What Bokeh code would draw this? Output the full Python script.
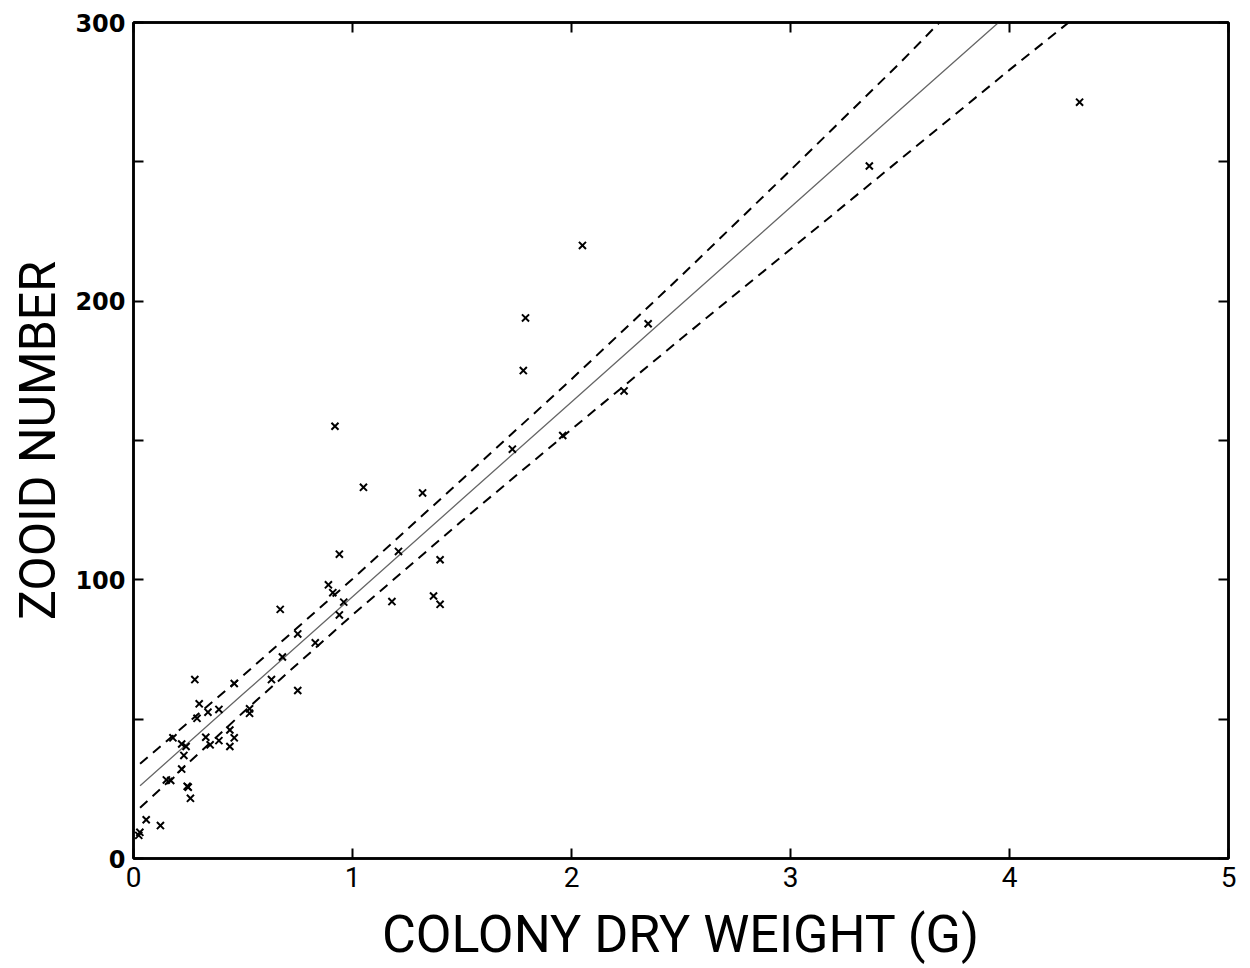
from bokeh.plotting import figure
from bokeh.models import LinearAxis, FixedTicker, Range1d
from bokeh.embed import file_html
from bokeh.resources import INLINE

# Data
weight_g = [0.024, 0.029, 0.058, 0.123, 0.15, 0.17, 0.18, 0.22, 0.22, 0.23, 0.24,
            0.245, 0.25, 0.26, 0.28, 0.29, 0.30, 0.33, 0.34, 0.35, 0.39, 0.39,
            0.44, 0.44, 0.46, 0.46, 0.53, 0.53, 0.63, 0.67, 0.68, 0.75, 0.75,
            0.83, 0.89, 0.91, 0.92, 0.94, 0.94, 0.96, 1.05, 1.18, 1.21, 1.32,
            1.37, 1.40, 1.40, 1.73, 1.78, 1.79, 1.96, 2.05, 2.24, 2.35, 3.36, 4.32]
zooids = [8.3, 9.4, 13.9, 11.8, 28.2, 28.0, 43.3, 32.1, 41.1, 37.0, 40.2,
          25.9, 25.6, 21.6, 64.2, 50.3, 55.5, 43.5, 52.5, 40.8, 42.3, 53.5,
          46.1, 40.2, 43.3, 62.8, 53.7, 52.1, 64.2, 89.4, 72.3, 60.3, 80.6,
          77.4, 98.2, 95.4, 155.1, 109.2, 87.4, 92.0, 133.2, 92.2, 110.2, 131.2,
          94.2, 107.2, 91.2, 146.9, 175.1, 194.0, 151.8, 220.0, 167.8, 191.9, 248.5, 271.4]

# Regression line and confidence band
line_x = [0.03, 0.5, 1.0, 1.5, 2.0, 2.5, 3.0, 3.5, 3.95]
line_y = [26.1, 59.0, 93.9, 128.9, 163.8, 198.8, 233.7, 268.7, 300.0]
upper_x = [0.03, 0.5, 1.0, 1.5, 2.0, 2.5, 3.0, 3.5, 3.68]
upper_y = [34.0, 65.6, 100.3, 136.0, 172.0, 209.0, 247.0, 285.5, 300.0]
lower_x = [0.03, 0.5, 1.0, 1.5, 2.0, 2.5, 3.0, 3.5, 4.0, 4.27]
lower_y = [18.2, 52.4, 87.4, 121.2, 154.0, 186.5, 218.6, 250.8, 283.0, 300.0]

x_ticks = [0, 1, 2, 3, 4, 5]
y_ticks = [0, 50, 100, 150, 200, 250, 300]
y_labels = {0: "0", 50: "", 100: "100", 150: "", 200: "200", 250: "", 300: "300"}

p = figure(width=1250, height=968, output_backend="svg", toolbar_location=None,
           x_range=Range1d(0, 5), y_range=Range1d(0, 300),
           x_axis_location=None, y_axis_location=None,
           min_border_left=133, min_border_right=22, min_border_top=22,
           min_border_bottom=110)
p.grid.visible = False
p.outline_line_color = "black"
p.outline_line_width = 2.5
p.background_fill_color = "white"
p.border_fill_color = "white"

def make_axis(ticks, overrides=None, labels=True):
    ax = LinearAxis(ticker=FixedTicker(ticks=ticks))
    ax.axis_line_width = 2.5
    ax.axis_line_color = "black"
    ax.major_tick_in = 10
    ax.major_tick_out = 0
    ax.major_tick_line_width = 2
    ax.minor_tick_line_color = None
    ax.major_label_text_color = "black"
    ax.axis_label_text_color = "black"
    if overrides:
        ax.major_label_overrides = overrides
    if not labels:
        ax.major_label_text_font_size = "0px"
        ax.major_label_text_color = None
    return ax

left = make_axis(y_ticks, overrides=y_labels)
left.major_label_text_font = "DejaVu Sans"
left.major_label_text_font_style = "bold"
left.major_label_text_font_size = "24px"
left.major_label_standoff = 8
left.axis_label = "ZOOID NUMBER"
left.axis_label_text_font = "Roboto"
left.axis_label_text_font_style = "normal"
left.axis_label_text_font_size = "50px"
left.axis_label_standoff = 5
p.add_layout(left, "left")

bottom = make_axis(x_ticks)
bottom.major_label_text_font = "Roboto"
bottom.major_label_text_font_size = "28px"
bottom.major_label_standoff = 8
bottom.axis_label = "COLONY DRY WEIGHT (G)"
bottom.axis_label_text_font = "Roboto"
bottom.axis_label_text_font_style = "normal"
bottom.axis_label_text_font_size = "52px"
bottom.axis_label_standoff = 14
p.add_layout(bottom, "below")

right = make_axis(y_ticks, labels=False)
p.add_layout(right, "right")
top = make_axis(x_ticks, labels=False)
p.add_layout(top, "above")

p.line(line_x, line_y, line_color="#666666", line_width=1.3)
p.line(upper_x, upper_y, line_color="black", line_width=2, line_dash="10 7")
p.line(lower_x, lower_y, line_color="black", line_width=2, line_dash="10 7")
p.scatter(weight_g, zooids, marker="x", size=10, line_color="black", line_width=2)

open("out.html", "w").write(file_html(p, INLINE))
